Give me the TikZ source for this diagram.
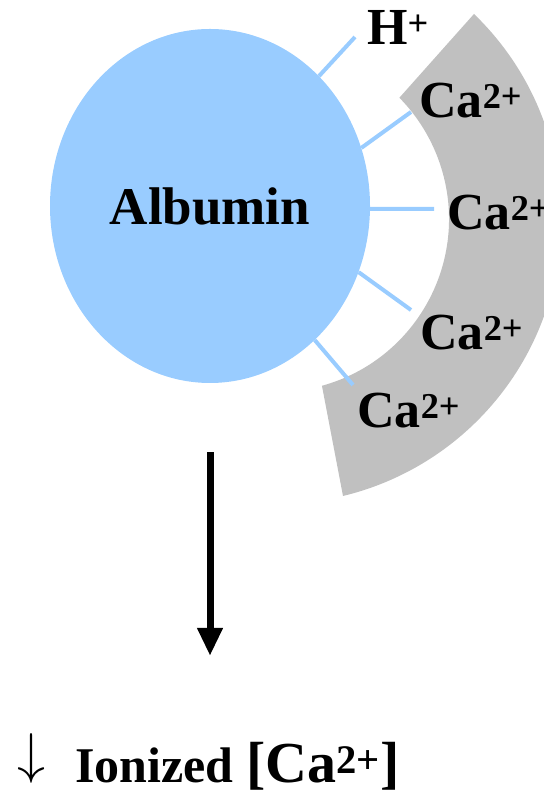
\documentclass[tikz,border=0pt]{standalone}
\usepackage{graphicx}
\usepackage{fontspec}
\setmainfont{Liberation Serif}
\usetikzlibrary{shapes.geometric, arrows.meta, positioning, calc}
\definecolor{albblue}{HTML}{99CCFF}
\definecolor{ringgray}{HTML}{C0C0C0}

\begin{document}
\begin{tikzpicture}[x=1pt, y=1pt,
    ion/.style={anchor=base west, inner sep=0pt, font=\fontsize{52}{60}\selectfont\bfseries},
    bond/.style={draw=albblue, line width=4pt},
    flow/.style={line width=7pt, -{Triangle[width=24pt, length=28pt]}}]
    \useasboundingbox (0,0) rectangle (543,794);
    \coordinate (rc) at (276,575);
    \fill[ringgray] ([shift={(46:285)}]rc) arc[start angle=46, end angle=-76.4, radius=285]
        -- ([shift={(-74.6:173)}]rc) arc[start angle=-74.6, end angle=44.5, radius=173] -- cycle;
    \node[ellipse, fill=albblue, minimum width=320pt, minimum height=354pt, inner sep=0pt,
        font=\fontsize{53}{60}\selectfont\bfseries] (alb) at (210,588) {Albumin};
    \coordinate (hend) at (355,757);
    \coordinate (c1end) at (411,682);
    \coordinate (c2end) at (434,585);
    \coordinate (c3end) at (411,484);
    \coordinate (c4end) at (353,409);
    \draw[bond] (alb.50) -- (hend);
    \draw[bond] (alb.21) -- (c1end);
    \draw[bond] (alb.-1) -- (c2end);
    \draw[bond] (alb.-24) -- (c3end);
    \draw[bond] (alb.-52) -- (c4end);
    \node[ion] (h) at (367,749) {H\textsuperscript{+}};
    \node[ion] (ca1) at (419,676) {Ca\textsuperscript{2+}};
    \node[ion] (ca2) at (447,564) {Ca\textsuperscript{2+}};
    \node[ion] (ca3) at (420,444) {Ca\textsuperscript{2+}};
    \node[ion] (ca4) at (357,366) {Ca\textsuperscript{2+}};
    \node[ion, font=\fontsize{50}{60}\selectfont\bfseries] (res) at (17,11)
        {\raisebox{11pt}{\scalebox{5.6}{\fontsize{10}{12}\selectfont$\downarrow$}}\hspace{30pt}Ionized
         {\fontsize{58}{64}\selectfont[Ca\textsuperscript{2+}]}};
    \draw[flow, shorten <=69pt, shorten >=77pt] (alb.south) -- (alb.south |- res.north);
\end{tikzpicture}
\end{document}
